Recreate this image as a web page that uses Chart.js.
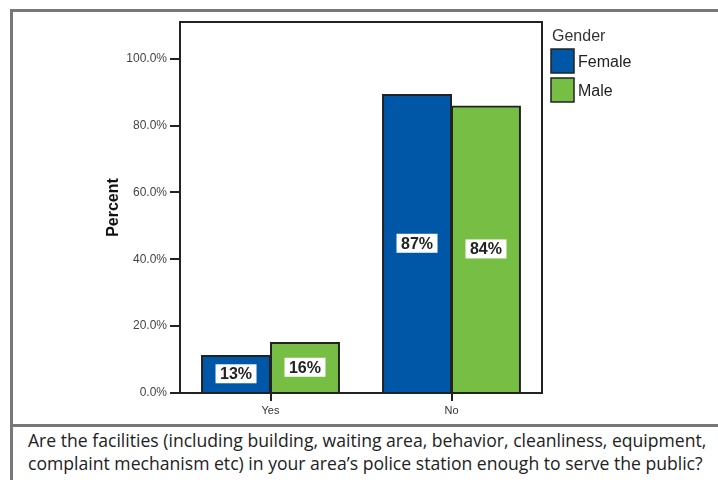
<!DOCTYPE html>
<html>
<head>
<meta charset="utf-8">
<script src="https://cdn.jsdelivr.net/npm/chart.js@4"></script>
<style>
  html, body { margin: 0; padding: 0; background: #fff; }
  body { width: 718px; height: 480px; position: relative; overflow: hidden; }
  .frame-left { position: absolute; left: 10px; top: 9px; width: 3px; height: 471px; background: #777; }
  .frame-top { position: absolute; left: 10px; top: 9px; width: 708px; height: 3px; background: #777; }
  .frame-sep { position: absolute; left: 10px; top: 424px; width: 708px; height: 3px; background: #777; }
  #chart { position: absolute; left: 0; top: 0; }
  .caption {
    position: absolute; left: 28px; top: 429px; width: 700px;
    font-family: "Open Sans", "Liberation Sans", sans-serif; font-size: 17.6px; line-height: 23px; color: #222;
    white-space: nowrap;
  }
</style>
</head>
<body>
<div class="frame-left"></div>
<div class="frame-top"></div>
<div class="frame-sep"></div>
<canvas id="chart" width="718" height="425"></canvas>
<div class="caption">Are the facilities (including building, waiting area, behavior, cleanliness, equipment,<br>complaint mechanism etc) in your area’s police station enough to serve the public?</div>
<script>
const categories = ["Yes", "No"];
const femaleValues = [11.2, 89.3];
const maleValues = [15.1, 85.9];
const femaleLabels = ["13%", "87%"];
const maleLabels = ["16%", "84%"];
const yTicks = [0, 20, 40, 60, 80, 100];

const FONT = "'Liberation Sans', Arial, sans-serif";

// boxes with the percent printed in the middle of each bar
const barLabels = {
  id: "barLabels",
  afterDatasetsDraw(chart) {
    const ctx = chart.ctx;
    chart.data.datasets.forEach((ds, i) => {
      const meta = chart.getDatasetMeta(i);
      meta.data.forEach((bar, j) => {
        const cx = bar.x;
        const cy = (bar.y + bar.base) / 2;
        ctx.save();
        ctx.fillStyle = "#fff";
        ctx.fillRect(cx - 20.5, cy - 9.5, 41, 19);
        ctx.fillStyle = "#222";
        ctx.font = "bold 16px " + FONT;
        ctx.textAlign = "center";
        ctx.textBaseline = "middle";
        ctx.fillText(ds.labelsText[j], cx, cy + 1);
        ctx.restore();
      });
    });
    // frame round the plot
    const a = chart.chartArea;
    ctx.save();
    ctx.strokeStyle = "#222";
    ctx.lineWidth = 2;
    ctx.strokeRect(a.left, a.top, a.right - a.left, a.bottom - a.top);
    ctx.restore();
  }
};

// legend on the right, same as the original
const sideLegend = {
  id: "sideLegend",
  afterDraw(chart) {
    const ctx = chart.ctx;
    ctx.save();
    ctx.fillStyle = "#333";
    ctx.font = "16px " + FONT;
    ctx.textBaseline = "alphabetic";
    ctx.fillText("Gender", 552, 41);
    chart.data.datasets.forEach((ds, i) => {
      const y = 49 + i * 29;
      ctx.fillStyle = ds.backgroundColor;
      ctx.fillRect(551, y, 23, 24);
      ctx.strokeStyle = "#222";
      ctx.lineWidth = 1.5;
      ctx.strokeRect(551, y, 23, 24);
      ctx.fillStyle = "#222";
      ctx.fillText(ds.label, 578, y + 18);
    });
    ctx.restore();
  }
};

new Chart(document.getElementById("chart").getContext("2d"), {
  type: "bar",
  data: {
    labels: categories,
    datasets: [
      {
        label: "Female",
        data: femaleValues,
        labelsText: femaleLabels,
        backgroundColor: "#0057a7",
        borderColor: "#222",
        borderWidth: 2,
        inflateAmount: 0.5,
      },
      {
        label: "Male",
        data: maleValues,
        labelsText: maleLabels,
        backgroundColor: "#77bf44",
        borderColor: "#222",
        borderWidth: 2,
        inflateAmount: 0.5,
      },
    ],
  },
  options: {
    responsive: false,
    animation: false,
    layout: { padding: { left: 100, top: 22, right: 176, bottom: 7 } },
    datasets: { bar: { categoryPercentage: 0.762, barPercentage: 1 } },
    plugins: { legend: { display: false }, tooltip: { enabled: false } },
    scales: {
      x: {
        afterFit: (s) => { s.height = 25; },
        border: { display: false },
        grid: { offset: false, drawOnChartArea: false, tickLength: 8, color: "#222", lineWidth: 2 },
        ticks: { color: "#333", font: { family: FONT, size: 11 }, padding: 3 },
      },
      y: {
        min: 0,
        max: 111,
        afterFit: (s) => { s.width = 80; },
        afterBuildTicks: (s) => { s.ticks = yTicks.map((v) => ({ value: v })); },
        border: { display: false },
        grid: { drawOnChartArea: false, tickLength: 10, color: "#222", lineWidth: 2 },
        ticks: {
          color: "#444",
          font: { family: FONT, size: 12 },
          padding: 3,
          callback: (v) => v.toFixed(1) + "%",
        },
        title: {
          display: true,
          text: "Percent",
          color: "#111",
          font: { family: FONT, size: 16, weight: "bold" },
          padding: { top: 4, bottom: 4 },
        },
      },
    },
  },
  plugins: [barLabels, sideLegend],
});
</script>
</body>
</html>
